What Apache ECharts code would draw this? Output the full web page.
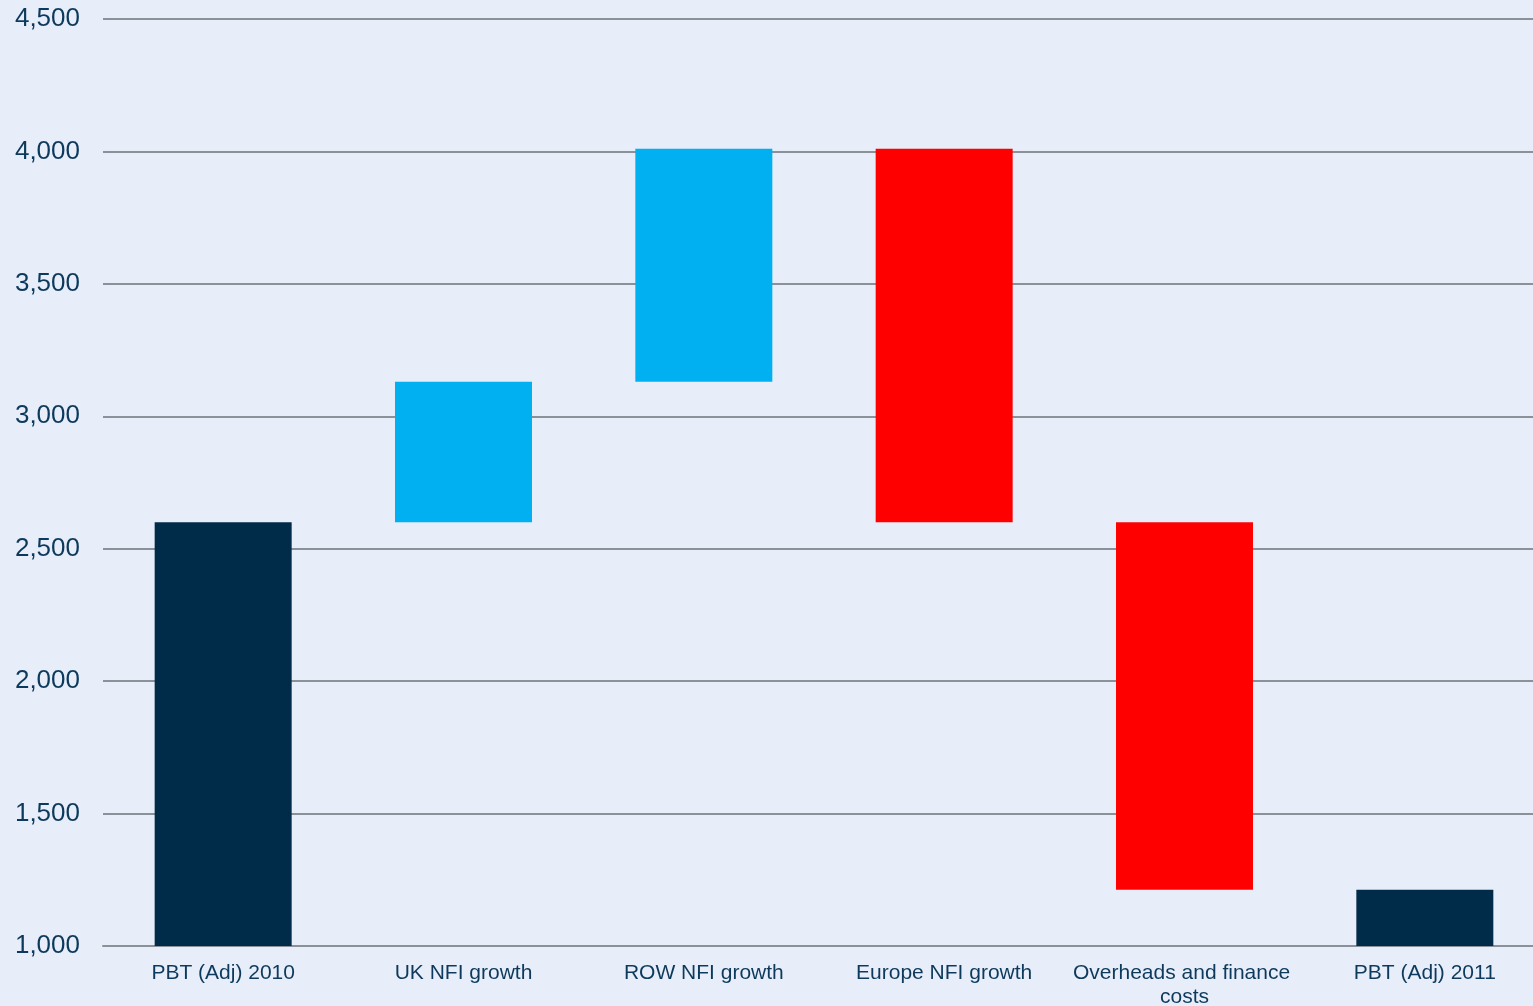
<!DOCTYPE html>
<html>
<head>
<meta charset="utf-8">
<script src="https://cdn.jsdelivr.net/npm/echarts@6/dist/echarts.min.js"></script>
<style>
html,body{margin:0;padding:0;background:#E8EEF9;overflow:hidden;}
#chart{width:100vw;height:100vh;}
</style>
</head>
<body>
<div id="chart"></div>
<script>
const categories = ['PBT (Adj) 2010', 'UK NFI growth', 'ROW NFI growth', 'Europe NFI growth', 'Overheads and finance costs', 'PBT (Adj) 2011'];
const barLow  = [1000, 2600, 3130, 2600, 1212, 1000];
const barHigh = [2600, 3130, 4010, 4010, 2600, 1212];
const barKind = ['total', 'up', 'up', 'down', 'down', 'total'];
const yTicks = { min: 1000, max: 4500, interval: 500 };

const kindColor = { total: '#002B49', up: '#00B0F0', down: '#FF0000' };
const textColor = '#0D3A5C';
const gridColor = '#8C9199';

const chart = echarts.init(document.getElementById('chart'));
chart.setOption({
  backgroundColor: '#E8EEF9',
  animation: false,
  grid: { left: 103, right: -12, top: 19, bottom: 60, containLabel: false, outerBoundsMode: 'none' },
  xAxis: {
    type: 'category',
    data: categories,
    axisLine: { show: true, lineStyle: { color: gridColor, width: 2 } },
    axisTick: { show: false },
    axisLabel: {
      color: textColor, fontSize: 21, fontFamily: 'Liberation Sans, Arial, sans-serif',
      margin: 15, width: 228, overflow: 'break', lineHeight: 24, interval: 0
    }
  },
  yAxis: {
    type: 'value',
    min: yTicks.min, max: yTicks.max, interval: yTicks.interval,
    axisLine: { show: false },
    axisTick: { show: false },
    splitLine: { lineStyle: { color: gridColor, width: 2 } },
    axisLabel: {
      color: textColor, fontSize: 26, fontFamily: 'Liberation Sans, Arial, sans-serif',
      margin: 23,
      formatter: v => v.toLocaleString('en-US')
    }
  },
  series: [
    {
      type: 'bar', stack: 'wf', silent: true,
      barWidth: '57%',
      itemStyle: { color: 'transparent' },
      data: barLow
    },
    {
      type: 'bar', stack: 'wf',
      barWidth: '57%',
      data: barHigh.map((h, i) => ({ value: h - barLow[i], itemStyle: { color: kindColor[barKind[i]] } }))
    }
  ]
});
</script>
</body>
</html>
